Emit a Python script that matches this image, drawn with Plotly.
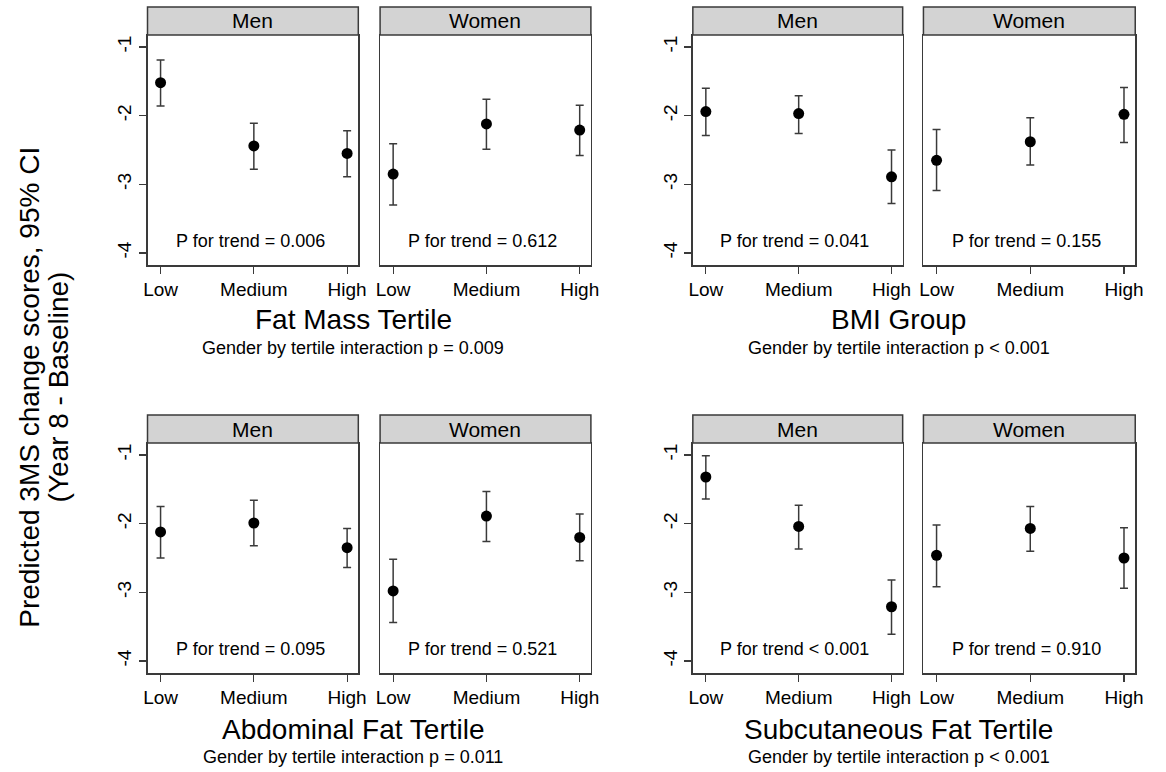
import plotly.graph_objects as go

W, H = 1166, 772

categories = ["Low", "Medium", "High"]
sexes = ["Men", "Women"]

# Fat Mass Tertile
fat_men_est = [-1.52, -2.44, -2.55]
fat_men_lo = [-1.86, -2.78, -2.89]
fat_men_hi = [-1.19, -2.11, -2.22]
fat_women_est = [-2.85, -2.12, -2.21]
fat_women_lo = [-3.30, -2.49, -2.58]
fat_women_hi = [-2.41, -1.76, -1.85]

# BMI Group
bmi_men_est = [-1.94, -1.97, -2.89]
bmi_men_lo = [-2.29, -2.26, -3.28]
bmi_men_hi = [-1.60, -1.71, -2.50]
bmi_women_est = [-2.65, -2.38, -1.98]
bmi_women_lo = [-3.09, -2.72, -2.39]
bmi_women_hi = [-2.20, -2.03, -1.59]

# Abdominal Fat Tertile
abd_men_est = [-2.12, -1.99, -2.35]
abd_men_lo = [-2.50, -2.32, -2.64]
abd_men_hi = [-1.75, -1.66, -2.07]
abd_women_est = [-2.98, -1.89, -2.20]
abd_women_lo = [-3.44, -2.26, -2.54]
abd_women_hi = [-2.52, -1.53, -1.86]

# Subcutaneous Fat Tertile
sub_men_est = [-1.32, -2.04, -3.21]
sub_men_lo = [-1.64, -2.37, -3.61]
sub_men_hi = [-1.01, -1.73, -2.82]
sub_women_est = [-2.46, -2.07, -2.50]
sub_women_lo = [-2.92, -2.40, -2.94]
sub_women_hi = [-2.02, -1.75, -2.06]

group_titles = ["Fat Mass Tertile", "BMI Group", "Abdominal Fat Tertile", "Subcutaneous Fat Tertile"]
interaction_texts = ["Gender by tertile interaction p = 0.009",
                     "Gender by tertile interaction p < 0.001",
                     "Gender by tertile interaction p = 0.011",
                     "Gender by tertile interaction p < 0.001"]
trend_texts = ["P for trend = 0.006", "P for trend = 0.612",
               "P for trend = 0.041", "P for trend = 0.155",
               "P for trend = 0.095", "P for trend = 0.521",
               "P for trend < 0.001", "P for trend = 0.910"]

y_tickvals = [-4, -3, -2, -1]
y_ticktext = ["-4", "-3", "-2", "-1"]

panels = [
    (fat_men_est, fat_men_lo, fat_men_hi),
    (fat_women_est, fat_women_lo, fat_women_hi),
    (bmi_men_est, bmi_men_lo, bmi_men_hi),
    (bmi_women_est, bmi_women_lo, bmi_women_hi),
    (abd_men_est, abd_men_lo, abd_men_hi),
    (abd_women_est, abd_women_lo, abd_women_hi),
    (sub_men_est, sub_men_lo, sub_men_hi),
    (sub_women_est, sub_women_lo, sub_women_hi),
]

FONT = "Liberation Sans, Arial, Helvetica, sans-serif"
LINE = "#3a3a3a"

# pixel layout
col_px = [(145, 358), (380, 593), (696, 908), (929, 1143)]
row_px = [(35, 265), (443, 673)]
strip_h = 28

def px_x(x):
    return x / W

def px_y(y):
    return 1 - y / H

fig = go.Figure()
layout = dict(
    width=W, height=H, margin=dict(l=0, r=0, t=0, b=0),
    paper_bgcolor="white", plot_bgcolor="white", showlegend=False,
    font=dict(family=FONT, color="black"),
)
shapes = []
annotations = []

for i, (est, lo, hi) in enumerate(panels):
    r, c = divmod(i, 4)
    n = i + 1
    xa = "x" if n == 1 else f"x{n}"
    ya = "y" if n == 1 else f"y{n}"
    x0, x1 = col_px[c]
    y0, y1 = row_px[r]
    fig.add_trace(go.Scatter(
        x=[1, 2, 3], y=est,
        mode="markers",
        marker=dict(color="black", size=11),
        error_y=dict(type="data", symmetric=False,
                     array=[h - e for h, e in zip(hi, est)],
                     arrayminus=[e - l for e, l in zip(est, lo)],
                     color=LINE, thickness=1.5, width=4),
        xaxis=xa, yaxis=ya, hoverinfo="skip",
    ))
    is_left = (c % 2 == 0)
    layout["xaxis" if n == 1 else f"xaxis{n}"] = dict(
        domain=[px_x(x0), px_x(x1)], anchor=ya, range=[0.86, 3.12],
        tickvals=[1, 2, 3], ticktext=categories, ticks="outside", ticklen=7,
        tickcolor=LINE, tickwidth=1.2,
        showline=True, mirror=True, linecolor=LINE, linewidth=1.5,
        showgrid=False, zeroline=False, fixedrange=True,
        tickfont=dict(size=19, family=FONT, color="black"),
    )
    layout["yaxis" if n == 1 else f"yaxis{n}"] = dict(
        domain=[px_y(y1), px_y(y0)], anchor=xa, range=[-4.175, -0.825],
        tickvals=y_tickvals, ticktext=y_ticktext,
        ticks="outside" if is_left else "", ticklen=7, tickcolor=LINE, tickwidth=1.2,
        showticklabels=is_left, tickangle=-90,
        showline=True, mirror=True, linecolor=LINE, linewidth=1.5,
        showgrid=False, zeroline=False, fixedrange=True,
        tickfont=dict(size=19, family=FONT, color="black"),
    )
    # strip header
    shapes.append(dict(type="rect", xref="paper", yref="paper",
                       x0=px_x(x0), x1=px_x(x1), y0=px_y(y0), y1=px_y(y0 - strip_h),
                       fillcolor="#d3d3d3", line=dict(color=LINE, width=1.5), layer="above"))
    annotations.append(dict(xref="paper", yref="paper", x=px_x((x0 + x1) / 2),
                            y=px_y(y0 - strip_h / 2), text=sexes[c % 2], showarrow=False,
                            font=dict(size=21, family=FONT, color="black"),
                            xanchor="center", yanchor="middle"))
    annotations.append(dict(xref=xa, yref=ya, x=1.96, y=-3.83, text=trend_texts[i],
                            showarrow=False, font=dict(size=18, family=FONT, color="black"),
                            xanchor="center", yanchor="middle"))

title_x = [353, 904]
title_y = [320, 729]
sub_y = [348, 757]
for g in range(4):
    r, c = divmod(g, 2)
    annotations.append(dict(xref="paper", yref="paper", x=px_x(title_x[c]), y=px_y(title_y[r]),
                            text=group_titles[g], showarrow=False,
                            font=dict(size=28, family=FONT, color="black"),
                            xanchor="center", yanchor="middle"))
    annotations.append(dict(xref="paper", yref="paper", x=px_x(title_x[c]), y=px_y(sub_y[r]),
                            text=interaction_texts[g], showarrow=False,
                            font=dict(size=18, family=FONT, color="black"),
                            xanchor="center", yanchor="middle"))

annotations.append(dict(xref="paper", yref="paper", x=px_x(25), y=px_y(387),
                        text="Predicted 3MS change scores, 95% CI", textangle=-90,
                        showarrow=False, font=dict(size=28, family=FONT, color="black"),
                        xanchor="center", yanchor="middle"))
annotations.append(dict(xref="paper", yref="paper", x=px_x(55), y=px_y(387),
                        text="(Year 8 - Baseline)", textangle=-90,
                        showarrow=False, font=dict(size=28, family=FONT, color="black"),
                        xanchor="center", yanchor="middle"))

layout["shapes"] = shapes
layout["annotations"] = annotations
fig.update_layout(**layout)
fig.write_html("out.html", config={"displayModeBar": False, "staticPlot": True},
               post_script="document.body.style.margin='0';document.body.style.overflow='hidden';")
